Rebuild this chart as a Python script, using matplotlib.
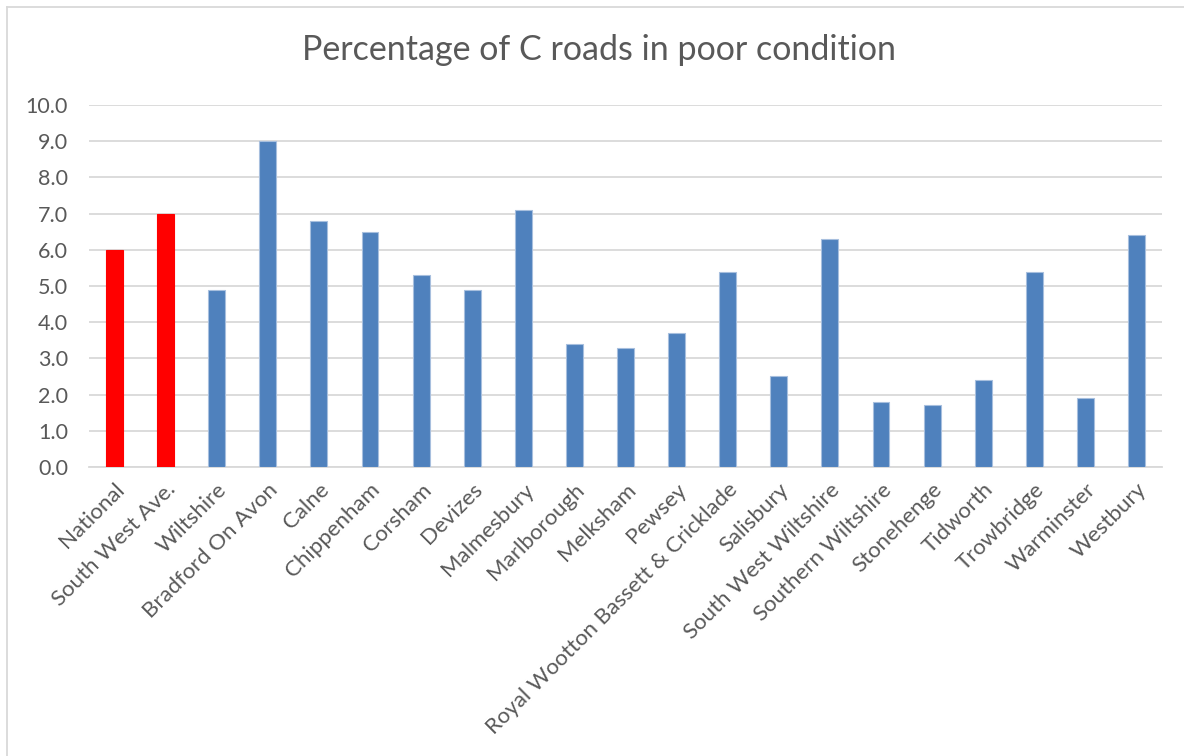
import matplotlib
matplotlib.use("Agg")
import matplotlib.pyplot as plt
from matplotlib.lines import Line2D

categories = ["National", "South West Ave.", "Wiltshire", "Bradford On Avon", "Calne",
              "Chippenham", "Corsham", "Devizes", "Malmesbury", "Marlborough", "Melksham",
              "Pewsey", "Royal Wootton Bassett & Cricklade", "Salisbury", "South West Wiltshire",
              "Southern Wiltshire", "Stonehenge", "Tidworth", "Trowbridge", "Warminster", "Westbury"]
values = [6.0, 7.0, 4.9, 9.0, 6.8, 6.5, 5.3, 4.9, 7.1, 3.4, 3.3, 3.7, 5.4, 2.5, 6.3,
          1.8, 1.7, 2.4, 5.4, 1.9, 6.4]
highlight = ["National", "South West Ave."]
yticks = [0, 1, 2, 3, 4, 5, 6, 7, 8, 9, 10]

plt.rcParams['font.family'] = ['Lato', 'DejaVu Sans']
txt = '#595959'

fig = plt.figure(figsize=(11.84, 7.56), dpi=100)
ax = fig.add_axes([89/1184, 1-467/756, (1162-89)/1184, (467-105)/756])

colors = ['#FF0000' if c in highlight else '#4F81BD' for c in categories]
ax.bar(range(len(categories)), values, width=0.33, color=colors,
       edgecolor=['#FF0000' if c in highlight else '#A7BFDE' for c in categories],
       linewidth=0.8, zorder=3)

ax.set_xlim(-0.5, len(categories) - 0.5)
ax.set_ylim(0, 10)
ax.set_yticks(yticks)
ax.set_yticklabels([f"{v:.1f}" for v in yticks], color=txt, fontsize=15.5)
ax.set_xticks(range(len(categories)))
ax.set_xticklabels(categories, rotation=45, ha='right', rotation_mode='anchor',
                   color=txt, fontsize=16)
ax.tick_params(axis='both', length=0)
ax.tick_params(axis='y', pad=15)
ax.tick_params(axis='x', pad=9)
ax.grid(axis='y', color='#D9D9D9', linewidth=1.3, zorder=0)
for s in ['top', 'right', 'left']:
    ax.spines[s].set_visible(False)
ax.spines['bottom'].set_color('#D9D9D9')
ax.spines['bottom'].set_linewidth(1.3)

fig.text(599/1184, 1-50/756, "Percentage of C roads in poor condition", ha='center', va='center',
         fontsize=24.5, color=txt)

fig.add_artist(Line2D([7/1184, 7/1184], [0, 1-7/756], transform=fig.transFigure, color='#D9D9D9', lw=1.3))
fig.add_artist(Line2D([7/1184, 1], [1-7/756, 1-7/756], transform=fig.transFigure, color='#D9D9D9', lw=1.3))

fig.savefig("out.png", dpi=100)
